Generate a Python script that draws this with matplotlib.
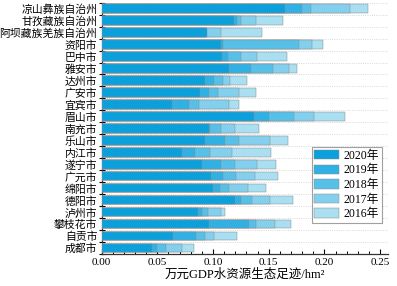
import matplotlib
matplotlib.use("Agg")
import matplotlib.pyplot as plt
import numpy as np
from matplotlib.ticker import MultipleLocator, FixedLocator

plt.rcParams['font.family'] = ['Liberation Serif', 'Noto Sans CJK SC', 'DejaVu Sans']

regions = ['凉山彝族自治州', '甘孜藏族自治州', '阿坝藏族羌族自治州', '资阳市', '巴中市', '雅安市',
           '达州市', '广安市', '宜宾市', '眉山市', '南充市', '乐山市', '内江市', '遂宁市',
           '广元市', '绵阳市', '德阳市', '泸州市', '攀枝花市', '自贡市', '成都市']

v2020 = [0.1647, 0.1189, 0.0946, 0.1072, 0.1078, 0.1141, 0.0925, 0.0883, 0.0635, 0.1368, 0.0964,
         0.0928, 0.0719, 0.0898, 0.0982, 0.1000, 0.1195, 0.0865, 0.0964, 0.0638, 0.0452]
v2019 = [0.1802, 0.1213, 0.0940, 0.1090, 0.1132, 0.1338, 0.1009, 0.0964, 0.0784, 0.1503, 0.0973,
         0.1105, 0.0838, 0.1069, 0.1093, 0.1060, 0.1251, 0.0898, 0.1320, 0.0844, 0.0500]
v2018 = [0.1877, 0.1249, 0.0930, 0.1773, 0.1249, 0.1536, 0.1087, 0.1048, 0.0874, 0.1728, 0.1075,
         0.1231, 0.0970, 0.1195, 0.1204, 0.1147, 0.1353, 0.0952, 0.1383, 0.0928, 0.0575]
v2017 = [0.2228, 0.1383, 0.1069, 0.1892, 0.1392, 0.1680, 0.1153, 0.1234, 0.1144, 0.1907, 0.1195,
         0.1515, 0.1168, 0.1392, 0.1374, 0.1317, 0.1515, 0.1069, 0.1554, 0.1006, 0.0722]
v2016 = [0.2389, 0.1632, 0.1443, 0.1991, 0.1662, 0.1751, 0.1308, 0.1383, 0.1231, 0.2186, 0.1410,
         0.1671, 0.1521, 0.1563, 0.1581, 0.1476, 0.1716, 0.1105, 0.1698, 0.1219, 0.0829]

years = ['2020年', '2019年', '2018年', '2017年', '2016年']
series = [v2020, v2019, v2018, v2017, v2016]
colors = ['#0aa0dc', '#30b1e5', '#57c0e9', '#82d0ee', '#a9dff1']

fig = plt.figure(figsize=(3.97, 2.86), dpi=100)
ax = fig.add_axes([0.256, 0.112, 0.721, 0.8786])

y = np.arange(len(regions))[::-1]
handles = []
for vals, col, lab in list(zip(series, colors, years))[::-1]:
    h = ax.barh(y, vals, height=0.72, color=col, edgecolor='#8c8c8c', linewidth=0.35,
                label=lab, zorder=3)
    handles.append(h)
handles = handles[::-1]

ax.set_ylim(-0.5, len(regions) - 0.5)
ax.set_xlim(0, 0.257)
ax.set_yticks(y)
ax.set_yticklabels(regions, fontsize=7.8)
ax.yaxis.set_minor_locator(FixedLocator(np.arange(-0.5, len(regions), 1.0)))
ax.tick_params(axis='y', which='major', length=0, pad=3)
ax.tick_params(axis='y', which='minor', length=4, width=0.8, direction='inout')
ax.grid(axis='y', which='minor', linestyle=':', color='#cccccc', linewidth=0.6, zorder=0)

ax.xaxis.set_major_locator(MultipleLocator(0.05))
ax.xaxis.set_minor_locator(MultipleLocator(0.01))
ax.set_xticklabels([f'{t:.2f}' for t in ax.get_xticks()], fontsize=8)
ax.tick_params(axis='x', which='major', length=3.5, width=0.8, direction='in', pad=3)
ax.tick_params(axis='x', which='minor', length=2, width=0.7, direction='in')
ax.set_xlabel('万元GDP水资源生态足迹/hm²', fontsize=9, labelpad=1)

for s in ['top', 'right']:
    ax.spines[s].set_visible(False)
for s in ['left', 'bottom']:
    ax.spines[s].set_linewidth(0.9)
    ax.spines[s].set_color('#333333')

leg = ax.legend(handles, years, loc='lower right', bbox_to_anchor=(0.979, 0.123),
                borderaxespad=0, fontsize=8.5, frameon=True, fancybox=False,
                handlelength=2.1, handleheight=0.85, labelspacing=0.22,
                borderpad=0.25, handletextpad=0.35)
leg.get_frame().set_edgecolor('#888888')
leg.get_frame().set_linewidth(0.8)

fig.savefig('out.png', dpi=100)
